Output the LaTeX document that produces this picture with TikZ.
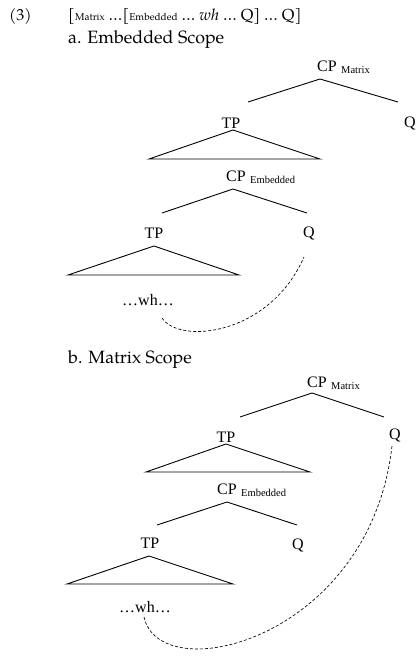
\documentclass[tikz,border=0pt]{standalone}
\usepackage{fontspec}
\setmainfont{Liberation Serif}
\newfontfamily\palfont{TeX Gyre Pagella}
\usetikzlibrary{positioning}
\tikzset{
  lbl/.style={font=\fontsize{16}{18}\selectfont, inner sep=1pt},
  sublbl/.style={font=\fontsize{10.5}{12}\selectfont, inner sep=0pt, anchor=base west},
  hdr/.style={font=\palfont\fontsize{16}{19}\selectfont, inner sep=0pt, anchor=base west},
  captxt/.style={hdr, font=\palfont\fontsize{17.8}{20}\selectfont},
  branch/.style={line width=.9pt},
  link/.style={line width=.65pt, dash pattern=on 3pt off 2pt},
}
\newcommand{\hsub}[1]{{\fontsize{10}{12}\selectfont #1}}
\begin{document}
\begin{tikzpicture}[x=1pt,y=-1pt]
\useasboundingbox (0,0) rectangle (418,656);
% header
\node[hdr] (ex) at (9,20) {(3)};
\node[hdr] (brk) at (68,20) {[\hsub{Matrix} \ldots[\hsub{Embedded} \ldots\ \textit{wh} \ldots\ Q] \ldots\ Q]};
\node[captxt] (capa) at (68,43) {a. Embedded Scope};
\node[captxt] (capb) at (68,363) {b. Matrix Scope};

% (a) embedded scope
\node[lbl] (cpa) at (327,66) {CP};
\node[sublbl] at ([xshift=3pt,yshift=-2.5pt]cpa.base east) {Matrix};
\coordinate (cpatop) at (320,79);
\coordinate (cpal) at (248,102); \coordinate (cpar) at (398,102);
\draw[branch] (cpal) -- (cpatop) -- (cpar);
\node[lbl] (tpa) at (231,123) {TP};
\node[lbl] (qa) at (410,123) {Q};
\draw[branch] (233,130) -- (149,159) -- (320,159) -- cycle;
\node[lbl] (cpea) at (236,176) {CP};
\node[sublbl] at ([xshift=3pt,yshift=-2.5pt]cpea.base east) {Embedded};
\coordinate (cpeatop) at (233,189);
\coordinate (cpeal) at (162,213); \coordinate (cpear) at (307,213);
\draw[branch] (cpeal) -- (cpeatop) -- (cpear);
\node[lbl] (tpea) at (154,233) {TP};
\node[lbl] (qea) at (309,233) {Q};
\draw[branch] (154,246) -- (68,275) -- (239,275) -- cycle;
\node[lbl] (wha) at (148,300) {…wh…};
\coordinate (wha0) at (162,318); \coordinate (qea0) at (304,257);
\draw[link] (wha0) .. controls (180,345) and (270,335) .. (qea0);

% (b) matrix scope
\node[lbl] (cpb) at (317,382) {CP};
\node[sublbl] at ([xshift=3pt,yshift=-2.5pt]cpb.base east) {Matrix};
\coordinate (cpbtop) at (312,393);
\coordinate (cpbl) at (240,417); \coordinate (cpbr) at (384,417);
\draw[branch] (cpbl) -- (cpbtop) -- (cpbr);
\node[lbl] (tpb) at (226,437) {TP};
\node[lbl] (qb) at (395,435) {Q};
\draw[branch] (226,444) -- (146,472) -- (310,472) -- cycle;
\node[lbl] (cpeb) at (227,489) {CP};
\node[sublbl] at ([xshift=3pt,yshift=-2.5pt]cpeb.base east) {Embedded};
\coordinate (cpebtop) at (227,502);
\coordinate (cpebl) at (157,525); \coordinate (cpebr) at (297,525);
\draw[branch] (cpebl) -- (cpebtop) -- (cpebr);
\node[lbl] (tpeb) at (150,543) {TP};
\node[lbl] (qeb) at (298,545) {Q};
\draw[branch] (149,556) -- (67,584) -- (233,584) -- cycle;
\node[lbl] (whb) at (145,607) {…wh…};
\coordinate (whb0) at (144,617); \coordinate (qb0) at (392,446);
\draw[link] (whb0) .. controls (160,690) and (370,640) .. (qb0);
\end{tikzpicture}
\end{document}
